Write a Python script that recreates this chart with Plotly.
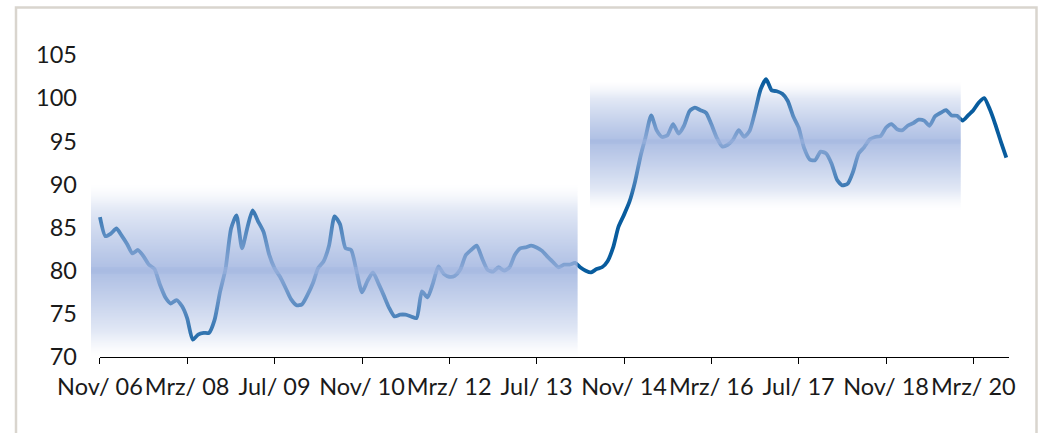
import pandas as pd
import plotly.graph_objects as go

# Monthly index values, Nov 2006 .. Sep 2020
start_month = "2006-11-01"
values = [
    86.2, 84.0, 84.3, 84.9, 84.1, 83.1, 82.0, 82.4, 81.7, 80.7,
    80.2, 78.4, 76.9, 76.2, 76.6, 75.9, 74.5, 72.0, 72.6, 72.8,
    72.8, 74.3, 77.6, 80.2, 84.9, 86.4, 82.6, 85.1, 87.0, 85.7,
    84.5, 81.9, 80.3, 79.3, 78.0, 76.7, 76.0, 76.1, 77.2, 78.6,
    80.3, 81.1, 82.9, 86.3, 85.4, 82.6, 82.4, 80.0, 77.5, 78.8,
    79.8, 78.5, 77.2, 75.7, 74.7, 74.9, 74.9, 74.7, 74.5, 77.6,
    76.9, 78.5, 80.5, 79.6, 79.3, 79.4, 80.1, 81.8, 82.4, 82.9,
    81.4, 80.1, 79.9, 80.4, 80.0, 80.4, 81.8, 82.6, 82.7, 82.9,
    82.7, 82.3, 81.6, 81.0, 80.4, 80.7, 80.7, 80.9, 80.4, 80.0,
    79.8, 80.2, 80.4, 81.1, 82.7, 85.1, 86.5, 88.0, 90.3, 93.3,
    95.5, 98.0, 96.3, 95.5, 95.7, 97.0, 95.9, 96.8, 98.5, 98.9,
    98.6, 98.3, 97.0, 95.4, 94.4, 94.6, 95.2, 96.3, 95.5, 96.2,
    98.5, 101.0, 102.2, 100.9, 100.8, 100.5, 99.7, 97.9, 96.6, 94.2,
    92.9, 92.8, 93.8, 93.6, 92.4, 90.5, 89.9, 90.1, 91.5, 93.6,
    94.3, 95.2, 95.5, 95.6, 96.6, 97.0, 96.4, 96.3, 96.8, 97.1,
    97.5, 97.4, 96.8, 97.9, 98.3, 98.6, 98.0, 97.95, 97.4, 98.0,
    98.6, 99.5, 100.0, 98.7, 97.0, 95.0, 93.1,
]
dates = pd.date_range(start_month, periods=len(values), freq="MS")

# Axis ticks
tick_dates = ["2006-11-01", "2008-03-01", "2009-07-01", "2010-11-01",
              "2012-03-01", "2013-07-01", "2014-11-01", "2016-03-01",
              "2017-07-01", "2018-11-01", "2020-03-01"]
tick_labels = ["Nov/ 06", "Mrz/ 08", "Jul/ 09", "Nov/ 10", "Mrz/ 12",
               "Jul/ 13", "Nov/ 14", "Mrz/ 16", "Jul/ 17", "Nov/ 18",
               "Mrz/ 20"]
y_ticks = [70, 75, 80, 85, 90, 95, 100, 105]

# Shaded ranges (gradient bands)
band_start = ["2006-09-12", "2014-04-25"]
band_end = ["2014-02-15", "2019-12-22"]
band_low = [70.0, 87.0]
band_mid = [80.0, 95.0]
band_high = [90.0, 102.0]

X_RANGE = ["2006-09-12", "2020-09-16"]
Y_RANGE = [70, 105]
W, H = 1042, 433
M_L, M_R, M_T, M_B = 91, 33, 55, 76
PLOT_H = H - M_T - M_B
PX_PER_UNIT = PLOT_H / (Y_RANGE[1] - Y_RANGE[0])

LINE_COLOR = "#085c9e"
BAND_RGB = (160, 180, 223)
FONT = "Lato"
TEXT_COLOR = "#1a1a1a"


def band_alpha(t):
    """Opacity of the band overlay at relative distance t (0 centre, 1 edge)."""
    a = 0.86 * (1 - t) ** 0.85
    if t > 0.7:
        a *= 1 - ((t - 0.7) / 0.3) ** 1.3 * 0.75
    if t < 0.04:
        a = min(a + 0.05, 0.95)
    return max(a, 0.0)


fig = go.Figure()
fig.add_trace(go.Scatter(
    x=dates, y=values, mode="lines",
    line=dict(color=LINE_COLOR, width=3.8, shape="spline", smoothing=0.6),
    hoverinfo="skip", showlegend=False,
))

# Gradient bands: one pixel-high stripe per row, fading out from the centre
shapes = []
for x0, x1, lo, mid, hi in zip(band_start, band_end, band_low, band_mid, band_high):
    k0 = int(round((lo - Y_RANGE[0]) * PX_PER_UNIT))
    k1 = int(round((hi - Y_RANGE[0]) * PX_PER_UNIT))
    for k in range(k0, k1):
        v0 = Y_RANGE[0] + k / PX_PER_UNIT
        v1 = Y_RANGE[0] + (k + 1) / PX_PER_UNIT
        vc = 0.5 * (v0 + v1)
        t = (vc - mid) / (hi - mid) if vc >= mid else (mid - vc) / (mid - lo)
        t = min(max(t, 0.0), 1.0)
        a = band_alpha(t)
        shapes.append(dict(
            type="rect", xref="x", yref="y", x0=x0, x1=x1, y0=v0, y1=v1,
            fillcolor=f"rgba({BAND_RGB[0]},{BAND_RGB[1]},{BAND_RGB[2]},{a:.3f})",
            line=dict(width=0), layer="above",
        ))

# x-axis baseline starting at the first month
shapes.append(dict(
    type="line", xref="x", yref="paper", x0=start_month, x1=X_RANGE[1],
    y0=-0.5 / PLOT_H, y1=-0.5 / PLOT_H,
    line=dict(color="#000000", width=1), layer="above",
))

# outer frame
plot_w = W - M_L - M_R
shapes.append(dict(
    type="rect", xref="paper", yref="paper",
    x0=(16 - M_L) / plot_w, x1=(1036.5 - M_L) / plot_w,
    y0=(H - M_B - 445) / PLOT_H, y1=(H - M_B - 7.5) / PLOT_H,
    line=dict(color="#d9d5ce", width=2.5), fillcolor="rgba(0,0,0,0)",
    layer="below",
))

fig.update_layout(
    width=W, height=H,
    margin=dict(l=M_L, r=M_R, t=M_T, b=M_B, pad=0, autoexpand=False),
    paper_bgcolor="white", plot_bgcolor="white",
    font=dict(family=FONT, size=23, color=TEXT_COLOR),
    shapes=shapes,
    showlegend=False,
)
fig.update_xaxes(
    type="date", range=X_RANGE, automargin=False, tickangle=0,
    tickmode="array", tickvals=tick_dates, ticktext=tick_labels,
    ticks="outside", ticklen=6, tickwidth=1, tickcolor="#000000",
    showline=False, showgrid=False, zeroline=False,
    tickfont=dict(family=FONT, size=23.5, color=TEXT_COLOR),
    ticklabelstandoff=3,
)
fig.update_yaxes(
    range=Y_RANGE, automargin=False, tickmode="array", tickvals=y_ticks,
    ticks="", showline=False, showgrid=False, zeroline=False,
    tickfont=dict(family=FONT, size=23.5, color=TEXT_COLOR),
    ticklabelstandoff=13,
)

fig.write_html("out.html")
